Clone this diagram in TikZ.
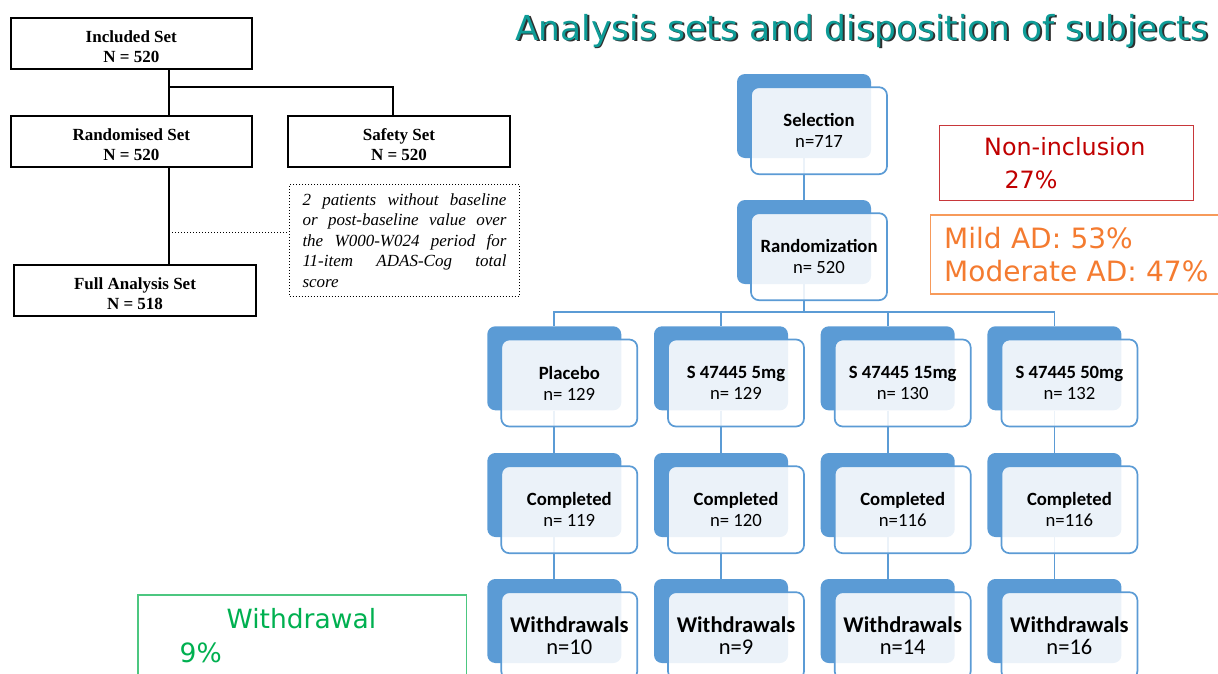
\documentclass[tikz,border=0pt]{standalone}
\usepackage{fontspec}
\setmainfont{Liberation Serif}
\newfontfamily\calfont{Carlito}
\newfontfamily\dvfont{DejaVu Sans}
\usetikzlibrary{backgrounds}

\definecolor{officeblue}{HTML}{5B9BD5}
\definecolor{titleteal}{HTML}{0E9C97}
\definecolor{titleshade}{HTML}{2E2E2E}
\definecolor{nonincred}{HTML}{C00000}
\definecolor{nonincline}{HTML}{C8373A}
\definecolor{mildorange}{HTML}{F47B30}
\definecolor{mildline}{HTML}{F79A5A}
\definecolor{wdgreen}{HTML}{00B050}
\definecolor{wdline}{HTML}{4CC780}

\newcommand\shadowtext[1]{\rlap{\kern1.8pt\raisebox{-1.8pt}{\color{titleshade}#1}}#1}
\newcommand\setstrut{\rule{0pt}{18pt}}

\begin{document}
\begin{tikzpicture}[x=1pt,y=-1pt,
    setbox/.style={draw, line width=1.8pt, minimum height=51pt, align=center, inner sep=0pt,
        font=\fontsize{17}{20}\selectfont\bfseries},
    back/.style={fill=officeblue, rounded corners=8pt, minimum width=134pt, minimum height=84pt},
    front/.style={draw=officeblue, line width=1.7pt, fill=white, fill opacity=0.88, text opacity=1,
        rounded corners=8pt, minimum width=136pt, minimum height=87pt, align=center, inner sep=0pt,
        font=\calfont\fontsize{18.7}{21}\selectfont},
    bigfront/.style={front, font=\calfont\fontsize{22.5}{21.5}\selectfont},
    link/.style={draw=officeblue, line width=1.8pt},
    remark/.style={line width=1.4pt, anchor=north west, inner xsep=10pt, align=left}]

    \useasboundingbox (0,0) rectangle (1218,673);
    \clip (0,0) rectangle (1218,673);

    \node[anchor=base west, inner sep=0pt, text=titleteal, font=\dvfont\fontsize{34.4}{40}\selectfont]
        (title) at (515,40) {\shadowtext{Analysis sets and disposition of subjects}};

    % analysis sets
    \node[setbox, minimum width=240.7pt] (incl) at (131.3,43.5) {\setstrut Included Set\\N = 520};
    \node[setbox, minimum width=240.7pt] (rand) at (131.3,141.7) {\setstrut Randomised Set\\N = 520};
    \node[setbox, minimum width=222.6pt] (safe) at (399,141.7) {\setstrut Safety Set\\N = 520};
    \node[setbox, minimum width=241.4pt] (fas) at (135,290.7) {\setstrut Full Analysis Set\\N = 518};
    \node[draw, dotted, line width=1pt, anchor=north west, minimum height=111.7pt, text width=204pt,
        inner xsep=13pt, align=justify, font=\itshape\fontsize{17}{20.5}\selectfont] (note) at (289,184)
        {\tolerance=10000\exhyphenpenalty=10000\hyphenpenalty=10000
         2 patients without baseline\linebreak or post-baseline value over\linebreak
         the W000-W024 period for\linebreak 11-item ADAS-Cog total\linebreak score};

    \coordinate (fork) at (169.3,86.7);
    \coordinate (cut) at (169.3,232.3);
    \draw[line width=1.8pt] (fork |- incl.south) -- (fork |- rand.north);
    \draw[line width=1.8pt] (fork) -| ([xshift=-5.7pt]safe.north);
    \draw[line width=1.8pt] (fork |- rand.south) -- (fork |- fas.north);
    \draw[dotted, line width=1pt] (cut) -- (cut -| note.west);

    % disposition tree
    \node[back] (sel-b) at (804,116) {};
    \node[front] (sel) at ([shift={(15pt,-14.7pt)}]sel-b.center) {\bfseries Selection\\n=717};
    \node[back] (ran-b) at (804,242) {};
    \node[front] (ran) at ([shift={(15pt,-14.7pt)}]ran-b.center) {\bfseries Randomization\\n= 520};
    \coordinate (bus) at (804,312.3);

    \foreach \arm/\na/\nb/\nc [count=\i] in {Placebo/n= 129/n= 119/n=10,
            S 47445 5mg/n= 129/n= 120/n=9, S 47445 15mg/n= 130/n=116/n=14,
            S 47445 50mg/n= 132/n=116/n=16} {
        \pgfmathsetmacro\cx{554.3+166.7*(\i-1)}
        \node[back] (trt\i-b) at (\cx,368.3) {};
        \node[front] (trt\i) at ([shift={(15pt,-14.7pt)}]trt\i-b.center) {\bfseries \arm\\\na};
        \node[back] (cmp\i-b) at (\cx,495) {};
        \node[front] (cmp\i) at ([shift={(15pt,-14.7pt)}]cmp\i-b.center) {\bfseries Completed\\\nb};
        \node[back] (wd\i-b) at (\cx,621) {};
        \node[bigfront] (wd\i) at ([shift={(15pt,-14.7pt)}]wd\i-b.center) {\bfseries Withdrawals\\\nc};
    }

    \begin{scope}[on background layer]
        \draw[link] (sel-b.south) -- (ran-b.north);
        \draw[link] (ran-b.south) -- (bus);
        \foreach \i in {1,...,4} {
            \draw[link] (bus) -| (trt\i-b.north);
            \draw[link] (trt\i-b.south) -- (cmp\i-b.north);
            \draw[link] (cmp\i-b.south) -- (wd\i-b.north);
        }
    \end{scope}

    % remarks
    \node[remark, draw=nonincline, text=nonincred, minimum height=75pt, text width=234.2pt,
        font=\dvfont\fontsize{23.8}{32.7}\selectfont] (noninc) at (938.8,125)
        {\hspace*{34.7pt}Non-inclusion\\\hspace*{55pt}27\%};
    \node[remark, draw=mildline, text=mildorange, minimum height=79pt, text width=280pt,
        font=\dvfont\fontsize{28}{32.7}\selectfont] (mild) at (930,214.3)
        {\hspace*{3.5pt}Mild AD: 53\%\\\hspace*{3.5pt}Moderate AD: 47\%};
    \node[remark, draw=wdline, text=wdgreen, minimum height=81.6pt, text width=308.7pt,
        font=\dvfont\fontsize{26.5}{33.4}\selectfont] (wdr) at (137.3,594.3)
        {\hspace*{78.7pt}Withdrawal\\\hspace*{31.7pt}9\%};
\end{tikzpicture}
\end{document}
